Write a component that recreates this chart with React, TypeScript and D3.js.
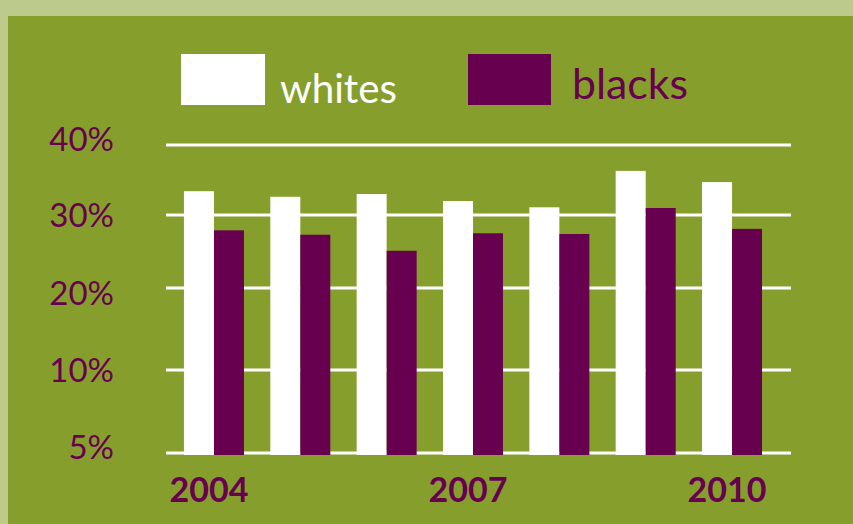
import React from "react";
import * as d3 from "d3";

const years = ["2004", "2005", "2006", "2007", "2008", "2009", "2010"];
const whites = [33.4, 32.6, 33.0, 32.0, 31.1, 36.3, 34.7];
const blacks = [27.9, 27.3, 25.1, 27.5, 27.4, 31.0, 28.1];
const series = ["whites", "blacks"];
const yTicks = [5, 10, 20, 30, 40];
const yTickLabels = ["5%", "10%", "20%", "30%", "40%"];
const xLabelYears = ["2004", "2007", "2010"];

const W = 853;
const H = 524;
const OUTER = "#bcca8c";
const INNER = "#869f2c";
const PURPLE = "#680050";
const WHITE = "#ffffff";
const FONT = "Lato, 'Open Sans', sans-serif";

export default function App() {
  const y = d3.scaleLinear().domain(yTicks).range([453, 370, 288, 215, 145]);
  // label baselines sit slightly off their gridlines in the original
  const yLabel = d3.scaleLinear().domain(yTicks).range([459, 382, 305, 227, 151]);
  const x = d3.scaleBand<string>().domain(years).range([171, 775]).paddingInner(0.305).paddingOuter(0.15);
  const xs = d3.scaleBand<string>().domain(series).range([0, x.bandwidth()]).padding(0);
  const color = d3.scaleOrdinal<string, string>().domain(series).range([WHITE, PURPLE]);
  const values: Record<string, number[]> = { whites, blacks };

  return (
    <svg width={W} height={H} style={{ position: "absolute", left: 0, top: 0, display: "block" }}>
      <rect x={0} y={0} width={W} height={H} fill={OUTER} />
      <rect x={8} y={16} width={W - 8} height={H - 16} fill={INNER} />

      {/* gridlines */}
      {yTicks.map((t) => (
        <line key={t} x1={166} x2={791} y1={y(t)} y2={y(t)} stroke={WHITE} strokeWidth={3} />
      ))}

      {/* y labels */}
      {yTicks.map((t, i) => (
        <text key={t} x={114} y={yLabel(t)} textAnchor="end" fontFamily={FONT} fontSize={33} fill={PURPLE}>
          {yTickLabels[i]}
        </text>
      ))}

      {/* bars */}
      {years.map((yr, i) =>
        series.map((s) => {
          const v = values[s][i];
          const x0 = (x(yr) as number) + (xs(s) as number);
          return (
            <rect key={yr + s} x={x0} y={y(v)} width={xs.bandwidth()} height={y(5) + 2 - y(v)} fill={color(s)} />
          );
        })
      )}

      {/* x labels */}
      {xLabelYears.map((yr) => (
        <text key={yr} x={(x(yr) as number) + x.bandwidth() / 2 - 5} y={502} textAnchor="middle" fontFamily={FONT} fontWeight="bold" fontSize={34} fill={PURPLE}>
          {yr}
        </text>
      ))}

      {/* legend */}
      <rect x={181} y={54} width={84} height={51} fill={WHITE} />
      <text x={280} y={103} fontFamily={FONT} fontSize={40} fill={WHITE} textLength={117} lengthAdjust="spacingAndGlyphs">whites</text>
      <rect x={468} y={54} width={83} height={51} fill={PURPLE} />
      <text x={572} y={99} fontFamily={FONT} fontSize={42} fill={PURPLE} textLength={116} lengthAdjust="spacingAndGlyphs">blacks</text>
    </svg>
  );
}
